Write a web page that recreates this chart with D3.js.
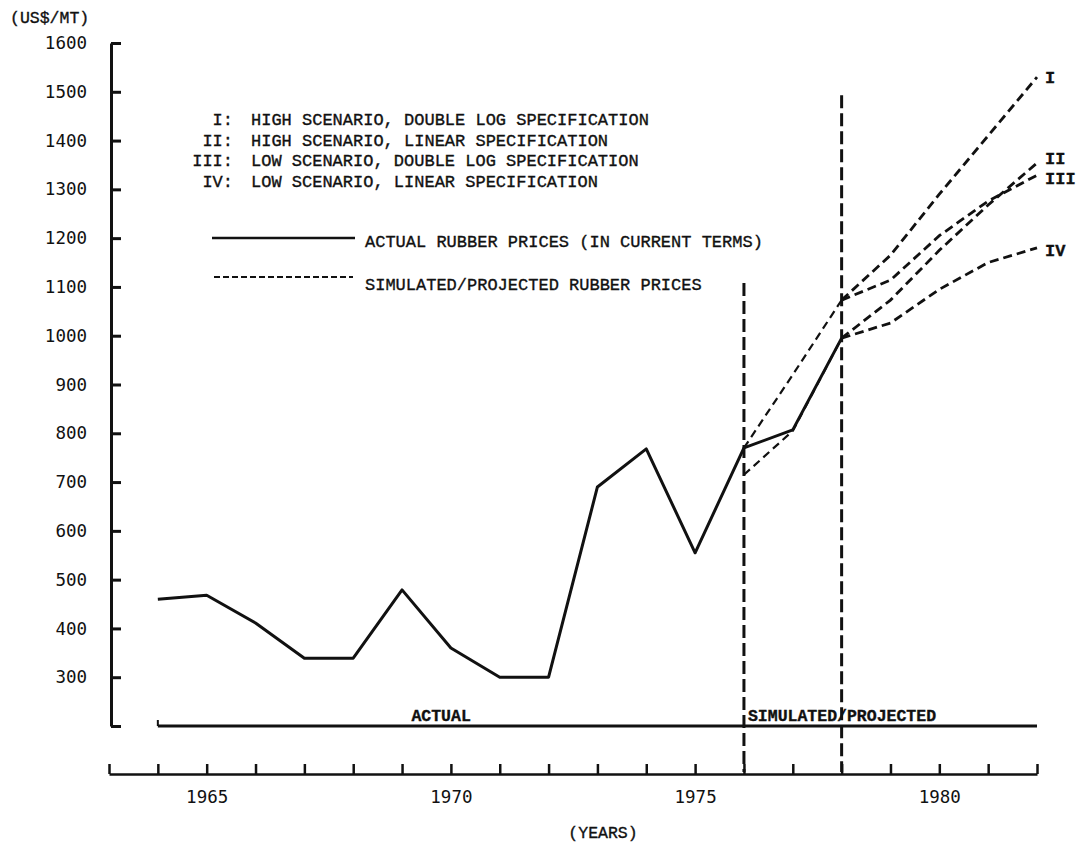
<!DOCTYPE html>
<head>
  <style>
    body { margin: 0; background: #fff; }
    text { fill: #111; }
    .mono { font-family: "Liberation Mono", "DejaVu Sans Mono", monospace; stroke: #111; stroke-width: 0.35px; }
    .tick text { font-family: "DejaVu Sans Mono", monospace; font-size: 17.5px; fill: #111; }
  </style>
</head>

<body>
  <script src="https://cdn.jsdelivr.net/npm/d3@7"></script>
  <script>
    // chart data
    var years = [1964, 1965, 1966, 1967, 1968, 1969, 1970, 1971, 1972, 1973, 1974, 1975, 1976, 1977, 1978];
    var actual = [460, 468, 411, 339, 339, 479, 360, 300, 300, 690, 768, 555, 770, 807, 995];

    var simYears = [1976, 1977, 1978];
    var simDoubleLog = [770, 920, 1073];
    var simLinear = [715, 805, 995];

    var projYears = [1978, 1979, 1980, 1981, 1982];
    var projI = [1073, 1165, 1290, 1410, 1530];
    var projII = [995, 1073, 1175, 1268, 1354];
    var projIII = [1073, 1114, 1205, 1276, 1329];
    var projIV = [995, 1026, 1095, 1150, 1180];

    var yTicks = [200, 300, 400, 500, 600, 700, 800, 900, 1000, 1100, 1200, 1300, 1400, 1500, 1600];
    var xTicks = d3.range(1963, 1983);
    var xLabels = [1965, 1970, 1975, 1980];

    var legendRows = [
      ["I:", "HIGH SCENARIO, DOUBLE LOG SPECIFICATION"],
      ["II:", "HIGH SCENARIO, LINEAR SPECIFICATION"],
      ["III:", "LOW SCENARIO, DOUBLE LOG SPECIFICATION"],
      ["IV:", "LOW SCENARIO, LINEAR SPECIFICATION"]
    ];
    var periods = [
      { label: "ACTUAL", from: 1964, to: 1976 },
      { label: "SIMULATED/PROJECTED", from: 1976, to: 1982 }
    ];
    var dividers = [{ year: 1976, top: 1108 }, { year: 1978, top: 1493 }];

    var container_w = 1078, container_h = 844;
    var axisY = 774;

    var xScale = d3.scaleLinear().domain([1963, 1982]).range([109, 1037]);
    var yScale = d3.scaleLinear().domain([200, 1600]).range([726, 43]);

    var svg = d3.select("body")
      .append("svg")
      .attr("width", container_w)
      .attr("height", container_h);

    svg.append("rect").attr("width", container_w).attr("height", container_h).attr("fill", "#fff");

    // y axis, ticks pointing right, labels on the left
    var yAxis = d3.axisLeft(yScale)
      .tickValues(yTicks)
      .tickSizeInner(-10)
      .tickSizeOuter(0)
      .tickPadding(24)
      .tickFormat(d => d == 200 ? "" : d);
    var gy = svg.append("g")
      .attr("transform", "translate(111,0)")
      .call(yAxis);
    gy.select(".domain").attr("stroke", "#111").attr("stroke-width", 3);
    gy.selectAll(".tick line").attr("stroke", "#111").attr("stroke-width", 3);

    // x axis, ticks pointing up
    var xAxis = d3.axisBottom(xScale)
      .tickValues(xTicks)
      .tickSizeInner(-10)
      .tickSizeOuter(0)
      .tickPadding(17)
      .tickFormat(d => xLabels.includes(d) ? d : "");
    var gx = svg.append("g")
      .attr("transform", `translate(0, ${axisY})`)
      .call(xAxis);
    gx.select(".domain").attr("stroke", "#111").attr("stroke-width", 2.5);
    gx.selectAll(".tick line").attr("stroke", "#111").attr("stroke-width", 2.5);

    // period line with labels
    svg.append("g")
      .selectAll("line")
      .data(periods)
      .enter()
      .append("line")
      .attr("x1", d => xScale(d.from))
      .attr("x2", d => xScale(d.to))
      .attr("y1", yScale(200))
      .attr("y2", yScale(200))
      .attr("stroke", "#111")
      .attr("stroke-width", 3);
    svg.append("line")
      .attr("x1", xScale(periods[0].from)).attr("x2", xScale(periods[0].from))
      .attr("y1", yScale(200) - 6).attr("y2", yScale(200))
      .attr("stroke", "#111").attr("stroke-width", 2);

    svg.append("text")
      .attr("class", "mono")
      .attr("x", xScale(1969.8))
      .attr("y", yScale(200) - 5)
      .attr("text-anchor", "middle")
      .attr("font-size", 16.5)
      .attr("font-weight", "bold")
      .text(periods[0].label);
    svg.append("text")
      .attr("class", "mono")
      .attr("x", xScale(periods[1].from) + 4)
      .attr("y", yScale(200) - 5)
      .attr("font-size", 16.5)
      .attr("font-weight", "bold")
      .text(periods[1].label);

    // vertical dashed dividers
    svg.append("g")
      .selectAll("line")
      .data(dividers)
      .enter()
      .append("line")
      .attr("x1", d => xScale(d.year))
      .attr("x2", d => xScale(d.year))
      .attr("y1", d => yScale(d.top))
      .attr("y2", axisY - 2)
      .attr("stroke", "#111")
      .attr("stroke-width", 3)
      .attr("stroke-dasharray", "13,5");

    var line = d3.line()
      .x(d => xScale(d[0]))
      .y(d => yScale(d[1]));

    // actual prices
    svg.append("path")
      .datum(d3.zip(years, actual))
      .attr("d", line)
      .attr("fill", "none")
      .attr("stroke", "#111")
      .attr("stroke-width", 3)
      .attr("stroke-linejoin", "round");

    // simulated 1976-78
    [simDoubleLog, simLinear].forEach(function (s) {
      svg.append("path")
        .datum(d3.zip(simYears, s))
        .attr("d", line)
        .attr("fill", "none")
        .attr("stroke", "#111")
        .attr("stroke-width", 2.2)
        .attr("stroke-dasharray", "8,5");
    });

    // projections
    var projections = [
      { name: "I", values: projI, dy: 0 },
      { name: "II", values: projII, dy: -5 },
      { name: "III", values: projIII, dy: 3 },
      { name: "IV", values: projIV, dy: 2 }
    ];
    projections.forEach(function (p) {
      svg.append("path")
        .datum(d3.zip(projYears, p.values))
        .attr("d", line)
        .attr("fill", "none")
        .attr("stroke", "#111")
        .attr("stroke-width", 2.8)
        .attr("stroke-dasharray", "9,5");
      svg.append("text")
        .attr("class", "mono")
        .attr("x", xScale(1982) + 8)
        .attr("y", yScale(p.values[p.values.length - 1]) + p.dy)
        .attr("dy", "0.35em")
        .attr("font-size", 17)
        .attr("font-weight", "bold")
        .text(p.name);
    });

    // legend
    var legend = svg.append("g").attr("class", "mono").attr("font-size", 17);
    legend.selectAll(".num")
      .data(legendRows)
      .enter()
      .append("text")
      .attr("x", 233)
      .attr("y", (d, i) => 119 + i * 20.7)
      .attr("dy", "0.35em")
      .attr("text-anchor", "end")
      .text(d => d[0]);
    legend.selectAll(".desc")
      .data(legendRows)
      .enter()
      .append("text")
      .attr("x", 251)
      .attr("y", (d, i) => 119 + i * 20.7)
      .attr("dy", "0.35em")
      .text(d => d[1]);

    legend.append("line")
      .attr("x1", 212).attr("x2", 355).attr("y1", 238).attr("y2", 238)
      .attr("stroke", "#111").attr("stroke-width", 2.5);
    legend.append("text")
      .attr("x", 365).attr("y", 241).attr("dy", "0.35em")
      .text("ACTUAL RUBBER PRICES (IN CURRENT TERMS)");
    legend.append("line")
      .attr("x1", 214).attr("x2", 353).attr("y1", 277).attr("y2", 277)
      .attr("stroke", "#111").attr("stroke-width", 2).attr("stroke-dasharray", "6,3");
    legend.append("text")
      .attr("x", 365).attr("y", 284).attr("dy", "0.35em")
      .text("SIMULATED/PROJECTED RUBBER PRICES");

    // axis titles
    svg.append("text")
      .attr("class", "mono")
      .attr("x", 10).attr("y", 17).attr("dy", "0.35em")
      .attr("font-size", 16.5)
      .text("(US$/MT)");
    svg.append("text")
      .attr("class", "mono")
      .attr("x", 603).attr("y", 832).attr("dy", "0.35em")
      .attr("text-anchor", "middle")
      .attr("font-size", 16.5)
      .text("(YEARS)");
  </script>
</body>
